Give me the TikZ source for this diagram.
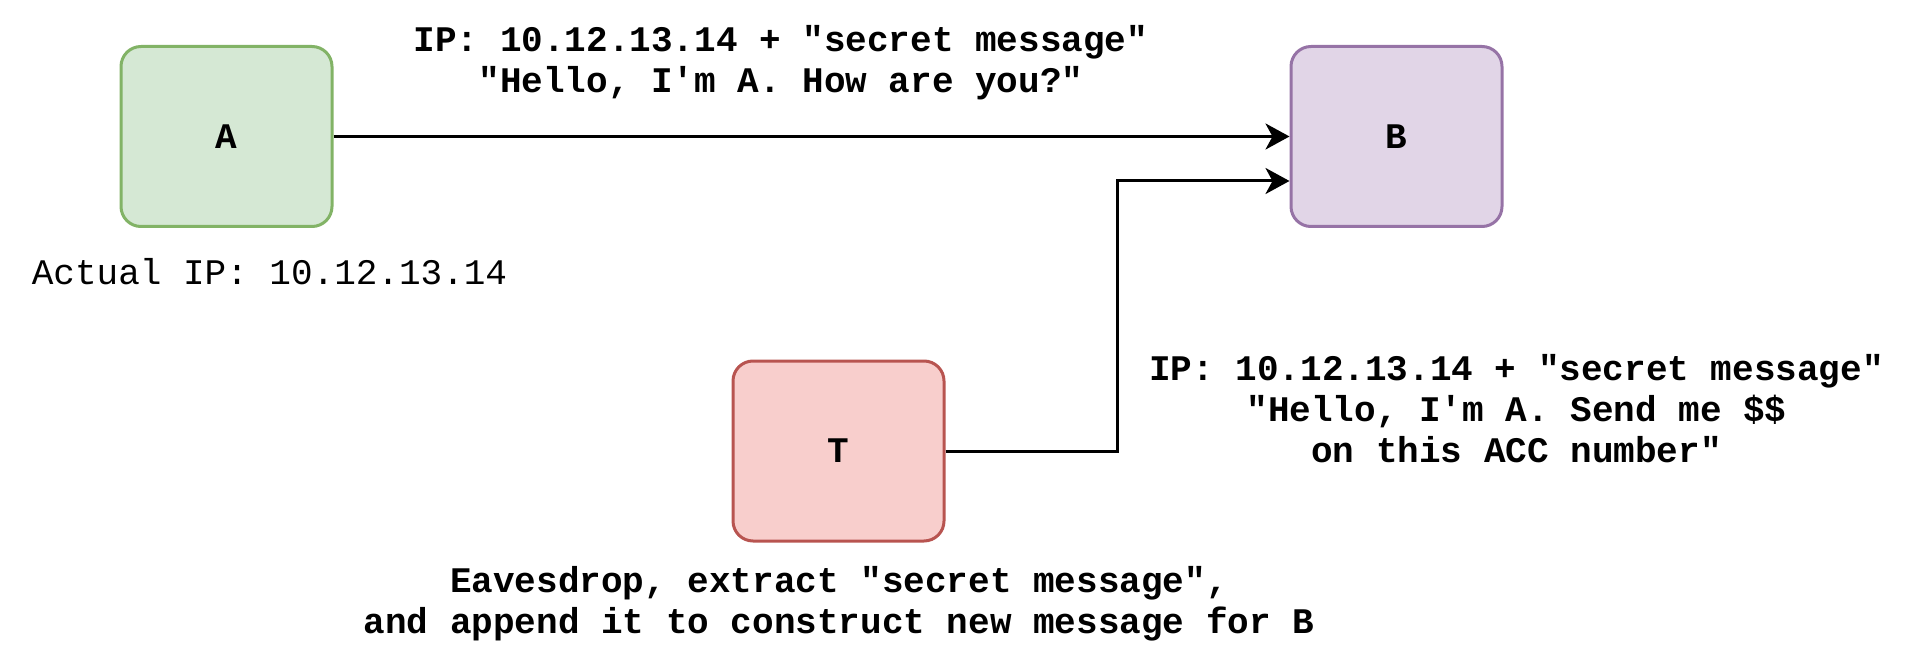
\documentclass[tikz,border=0pt]{standalone}
\usepackage{fontspec}
\setmonofont{Liberation Mono}
\usetikzlibrary{arrows.meta}
\definecolor{afill}{HTML}{D5E8D4}
\definecolor{aline}{HTML}{82B366}
\definecolor{bfill}{HTML}{E1D5E7}
\definecolor{bline}{HTML}{9673A6}
\definecolor{tfill}{HTML}{F8CECC}
\definecolor{tline}{HTML}{B85450}
\begin{document}
\begin{tikzpicture}[x=1pt,y=-1pt,
  font=\fontsize{36}{41}\selectfont\ttfamily,
  hostbox/.style={rectangle, rounded corners=20pt, line width=3pt,
    minimum width=211pt, minimum height=180pt, inner sep=0pt, font=\fontsize{36}{41}\selectfont\ttfamily\bfseries},
  lbl/.style={align=center, inner sep=0pt, font=\fontsize{36}{41}\selectfont\ttfamily\bfseries},
  plainlbl/.style={align=center, inner sep=0pt, font=\fontsize{36}{41}\selectfont\ttfamily},
  arr/.style={line width=3pt, -{Stealth[length=24pt, width=26pt, inset=7pt]}}]
\useasboundingbox (0,0) rectangle (1920,660);
\node[hostbox, fill=afill, draw=aline] (A) at (226.5,136.5) {A};
\node[hostbox, fill=bfill, draw=bline] (B) at (1396.5,136.5) {B};
\node[hostbox, fill=tfill, draw=tline] (T) at (838.5,451) {T};
\node[lbl] (toplbl) at (781,63) {IP: 10.12.13.14 + "secret message"\\"Hello, I'm A. How are you?"};
\node[plainlbl] (actual) at (269.5,272) {Actual IP: 10.12.13.14};
\node[lbl] (rightlbl) at (1516.5,408.5) {IP: 10.12.13.14 + "secret message"\\"Hello, I'm A. Send me \$\$\\on this ACC number"};
\node[lbl] (botlbl) at (839,604) {Eavesdrop, extract "secret message",\\and append it to construct new message for B};
\coordinate (bend) at (1117,181);
\draw[arr] (A.east) -- (B.west);
\draw[arr] (T.east) -| (bend) -- (B.west |- bend);
\end{tikzpicture}
\end{document}
